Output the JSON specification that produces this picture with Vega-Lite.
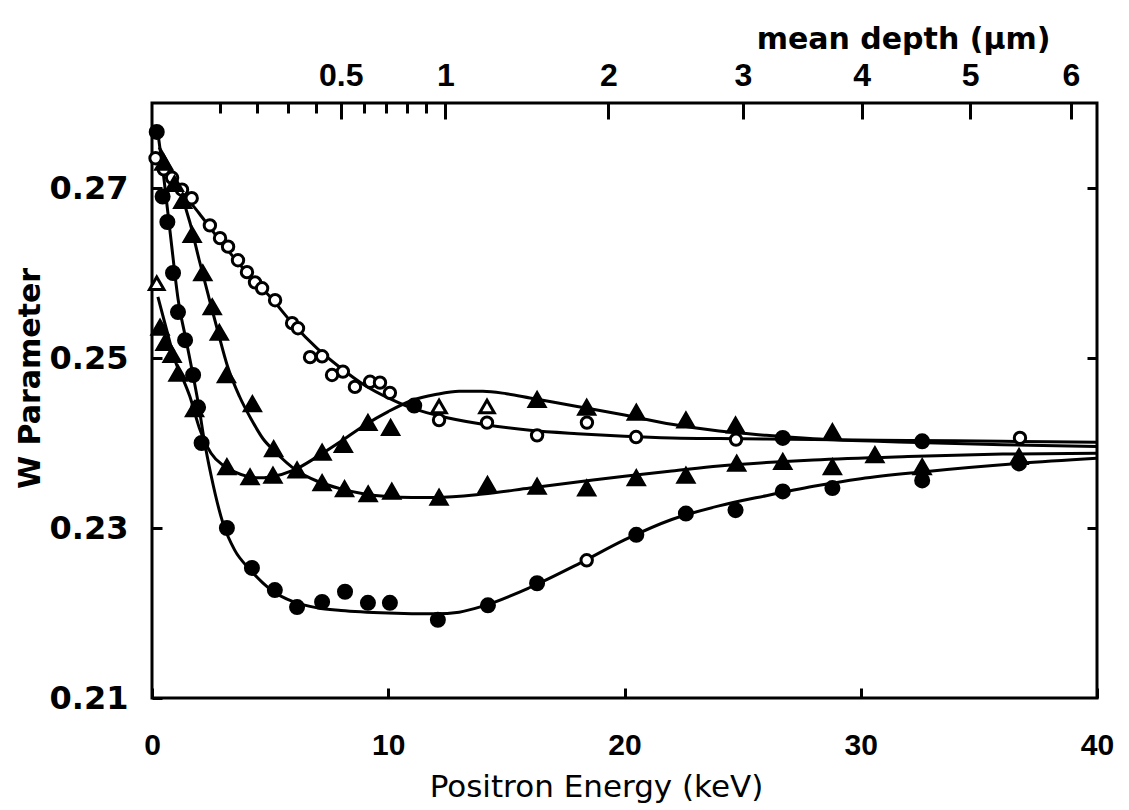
{
  "$schema": "https://vega.github.io/schema/vega-lite/v6.json",
  "width": 945,
  "height": 595,
  "autosize": {"type": "none"},
  "padding": {"left": 152, "top": 103, "right": 32, "bottom": 112},
  "background": "white",
  "config": {
    "view": {"stroke": "black", "strokeWidth": 3},
    "axis": {"domain": false, "grid": false, "tickColor": "black", "tickWidth": 3, "labelColor": "black", "titleColor": "black"}
  },
  "datasets": {
    "curves": [
      {"series": "A", "E": 0.3, "W": 0.2738}, {"series": "A", "E": 1, "W": 0.2706}, {"series": "A", "E": 2, "W": 0.2670}, {"series": "A", "E": 3, "W": 0.2634}, {"series": "A", "E": 4, "W": 0.2601}, {"series": "A", "E": 5, "W": 0.2572}, {"series": "A", "E": 6, "W": 0.2539}, {"series": "A", "E": 7, "W": 0.2511}, {"series": "A", "E": 8, "W": 0.2488}, {"series": "A", "E": 9, "W": 0.2468}, {"series": "A", "E": 10, "W": 0.2453}, {"series": "A", "E": 11, "W": 0.2441}, {"series": "A", "E": 12, "W": 0.2433}, {"series": "A", "E": 14, "W": 0.2422}, {"series": "A", "E": 16, "W": 0.2415}, {"series": "A", "E": 18, "W": 0.2411}, {"series": "A", "E": 20, "W": 0.2408}, {"series": "A", "E": 22, "W": 0.2406}, {"series": "A", "E": 25, "W": 0.2405}, {"series": "A", "E": 28, "W": 0.2404}, {"series": "A", "E": 32, "W": 0.2403}, {"series": "A", "E": 36, "W": 0.2402}, {"series": "A", "E": 40, "W": 0.2401},
      {"series": "B", "E": 0.25, "W": 0.2572}, {"series": "B", "E": 0.6, "W": 0.2535}, {"series": "B", "E": 1.0, "W": 0.2495}, {"series": "B", "E": 1.3, "W": 0.2476}, {"series": "B", "E": 1.6, "W": 0.2455}, {"series": "B", "E": 2.0, "W": 0.2418}, {"series": "B", "E": 2.5, "W": 0.2388}, {"series": "B", "E": 3, "W": 0.2374}, {"series": "B", "E": 3.5, "W": 0.2366}, {"series": "B", "E": 4, "W": 0.2361}, {"series": "B", "E": 4.5, "W": 0.2359}, {"series": "B", "E": 5, "W": 0.2360}, {"series": "B", "E": 6, "W": 0.2368}, {"series": "B", "E": 7, "W": 0.2384}, {"series": "B", "E": 8, "W": 0.2402}, {"series": "B", "E": 9, "W": 0.2421}, {"series": "B", "E": 10, "W": 0.2437}, {"series": "B", "E": 11, "W": 0.2450}, {"series": "B", "E": 12, "W": 0.2457}, {"series": "B", "E": 13, "W": 0.2461}, {"series": "B", "E": 14, "W": 0.2461}, {"series": "B", "E": 15, "W": 0.2458}, {"series": "B", "E": 16, "W": 0.2453}, {"series": "B", "E": 18, "W": 0.2443}, {"series": "B", "E": 20, "W": 0.2433}, {"series": "B", "E": 22, "W": 0.2422}, {"series": "B", "E": 24, "W": 0.2414}, {"series": "B", "E": 26, "W": 0.2409}, {"series": "B", "E": 28, "W": 0.2405}, {"series": "B", "E": 32, "W": 0.2401}, {"series": "B", "E": 36, "W": 0.2398}, {"series": "B", "E": 40, "W": 0.2396},
      {"series": "C", "E": 0.3, "W": 0.2748}, {"series": "C", "E": 0.8, "W": 0.2722}, {"series": "C", "E": 1.2, "W": 0.2695}, {"series": "C", "E": 1.6, "W": 0.2660}, {"series": "C", "E": 2.0, "W": 0.2615}, {"series": "C", "E": 2.4, "W": 0.2572}, {"series": "C", "E": 2.8, "W": 0.2530}, {"series": "C", "E": 3.2, "W": 0.2490}, {"series": "C", "E": 3.7, "W": 0.2455}, {"series": "C", "E": 4.2, "W": 0.2428}, {"series": "C", "E": 4.7, "W": 0.2405}, {"series": "C", "E": 5.2, "W": 0.2390}, {"series": "C", "E": 6.1, "W": 0.2368}, {"series": "C", "E": 7, "W": 0.2355}, {"series": "C", "E": 8, "W": 0.2346}, {"series": "C", "E": 9, "W": 0.2340}, {"series": "C", "E": 10, "W": 0.2337}, {"series": "C", "E": 11, "W": 0.2336}, {"series": "C", "E": 12, "W": 0.2336}, {"series": "C", "E": 14, "W": 0.2340}, {"series": "C", "E": 16, "W": 0.2347}, {"series": "C", "E": 18, "W": 0.2354}, {"series": "C", "E": 20, "W": 0.2361}, {"series": "C", "E": 22, "W": 0.2367}, {"series": "C", "E": 24, "W": 0.2373}, {"series": "C", "E": 26, "W": 0.2377}, {"series": "C", "E": 28, "W": 0.2380}, {"series": "C", "E": 32, "W": 0.2384}, {"series": "C", "E": 36, "W": 0.2387}, {"series": "C", "E": 40, "W": 0.2388},
      {"series": "D", "E": 0.25, "W": 0.2765}, {"series": "D", "E": 0.5, "W": 0.2712}, {"series": "D", "E": 0.8, "W": 0.2640}, {"series": "D", "E": 1.1, "W": 0.2570}, {"series": "D", "E": 1.45, "W": 0.2520}, {"series": "D", "E": 1.75, "W": 0.2478}, {"series": "D", "E": 2.0, "W": 0.2440}, {"series": "D", "E": 2.2, "W": 0.2405}, {"series": "D", "E": 2.5, "W": 0.2362}, {"series": "D", "E": 3.0, "W": 0.2306}, {"series": "D", "E": 3.5, "W": 0.2274}, {"series": "D", "E": 4.15, "W": 0.2251}, {"series": "D", "E": 5, "W": 0.2228}, {"series": "D", "E": 6, "W": 0.2213}, {"series": "D", "E": 7, "W": 0.2206}, {"series": "D", "E": 8, "W": 0.2203}, {"series": "D", "E": 10, "W": 0.2200}, {"series": "D", "E": 12, "W": 0.2199}, {"series": "D", "E": 13, "W": 0.2201}, {"series": "D", "E": 14, "W": 0.2208}, {"series": "D", "E": 16, "W": 0.2230}, {"series": "D", "E": 18, "W": 0.2257}, {"series": "D", "E": 20, "W": 0.2286}, {"series": "D", "E": 22, "W": 0.2310}, {"series": "D", "E": 24, "W": 0.2326}, {"series": "D", "E": 26, "W": 0.2338}, {"series": "D", "E": 28, "W": 0.2349}, {"series": "D", "E": 30, "W": 0.2358}, {"series": "D", "E": 32.6, "W": 0.2366}, {"series": "D", "E": 36.7, "W": 0.2376}, {"series": "D", "E": 40, "W": 0.2382}
    ],
    "points": [
      {"E": 0.15, "W": 0.2735, "marker": "open circle"}, {"E": 0.5, "W": 0.2722, "marker": "open circle"}, {"E": 0.85, "W": 0.2712, "marker": "open circle"}, {"E": 1.27, "W": 0.2698, "marker": "open circle"}, {"E": 1.68, "W": 0.2688, "marker": "open circle"}, {"E": 2.45, "W": 0.2656, "marker": "open circle"}, {"E": 2.88, "W": 0.2641, "marker": "open circle"}, {"E": 3.22, "W": 0.2631, "marker": "open circle"}, {"E": 3.64, "W": 0.2615, "marker": "open circle"}, {"E": 4.02, "W": 0.2601, "marker": "open circle"}, {"E": 4.36, "W": 0.2589, "marker": "open circle"}, {"E": 4.66, "W": 0.2582, "marker": "open circle"}, {"E": 5.21, "W": 0.2568, "marker": "open circle"}, {"E": 5.93, "W": 0.2541, "marker": "open circle"}, {"E": 6.18, "W": 0.2535, "marker": "open circle"}, {"E": 6.69, "W": 0.2501, "marker": "open circle"}, {"E": 7.2, "W": 0.2502, "marker": "open circle"}, {"E": 7.62, "W": 0.2480, "marker": "open circle"}, {"E": 8.08, "W": 0.2484, "marker": "open circle"}, {"E": 8.59, "W": 0.2466, "marker": "open circle"}, {"E": 9.23, "W": 0.2472, "marker": "open circle"}, {"E": 9.65, "W": 0.2471, "marker": "open circle"}, {"E": 10.07, "W": 0.2459, "marker": "open circle"}, {"E": 12.15, "W": 0.2427, "marker": "open circle"}, {"E": 14.18, "W": 0.2424, "marker": "open circle"}, {"E": 16.3, "W": 0.2409, "marker": "open circle"}, {"E": 18.41, "W": 0.2424, "marker": "open circle"}, {"E": 20.49, "W": 0.2407, "marker": "open circle"}, {"E": 24.72, "W": 0.2404, "marker": "open circle"}, {"E": 36.74, "W": 0.2406, "marker": "open circle"}, {"E": 18.4, "W": 0.2262, "marker": "open circle"},
      {"E": 0.2, "W": 0.2588, "marker": "open triangle"}, {"E": 12.15, "W": 0.2443, "marker": "open triangle"}, {"E": 14.18, "W": 0.2443, "marker": "open triangle"},
      {"E": 0.34, "W": 0.2536, "marker": "filled triangle"}, {"E": 0.55, "W": 0.2518, "marker": "filled triangle"}, {"E": 0.85, "W": 0.2504, "marker": "filled triangle"}, {"E": 1.1, "W": 0.2482, "marker": "filled triangle"}, {"E": 1.8, "W": 0.2440, "marker": "filled triangle"}, {"E": 3.17, "W": 0.2372, "marker": "filled triangle"}, {"E": 4.15, "W": 0.2360, "marker": "filled triangle"}, {"E": 5.12, "W": 0.2362, "marker": "filled triangle"}, {"E": 6.14, "W": 0.2368, "marker": "filled triangle"}, {"E": 7.2, "W": 0.2389, "marker": "filled triangle"}, {"E": 8.1, "W": 0.2398, "marker": "filled triangle"}, {"E": 9.14, "W": 0.2424, "marker": "filled triangle"}, {"E": 10.1, "W": 0.2418, "marker": "filled triangle"}, {"E": 16.3, "W": 0.2451, "marker": "filled triangle"}, {"E": 18.4, "W": 0.2442, "marker": "filled triangle"}, {"E": 20.5, "W": 0.2436, "marker": "filled triangle"}, {"E": 22.6, "W": 0.2427, "marker": "filled triangle"}, {"E": 24.7, "W": 0.2421, "marker": "filled triangle"}, {"E": 28.8, "W": 0.2413, "marker": "filled triangle"},
      {"E": 0.5, "W": 0.2730, "marker": "filled triangle"}, {"E": 0.95, "W": 0.2705, "marker": "filled triangle"}, {"E": 1.3, "W": 0.2685, "marker": "filled triangle"}, {"E": 1.7, "W": 0.2645, "marker": "filled triangle"}, {"E": 2.15, "W": 0.2600, "marker": "filled triangle"}, {"E": 2.55, "W": 0.2560, "marker": "filled triangle"}, {"E": 2.85, "W": 0.2530, "marker": "filled triangle"}, {"E": 3.15, "W": 0.2480, "marker": "filled triangle"}, {"E": 4.25, "W": 0.2446, "marker": "filled triangle"}, {"E": 5.15, "W": 0.2393, "marker": "filled triangle"}, {"E": 7.2, "W": 0.2353, "marker": "filled triangle"}, {"E": 8.15, "W": 0.2346, "marker": "filled triangle"}, {"E": 9.15, "W": 0.2340, "marker": "filled triangle"}, {"E": 10.15, "W": 0.2343, "marker": "filled triangle"}, {"E": 12.15, "W": 0.2336, "marker": "filled triangle"}, {"E": 14.2, "W": 0.2351, "marker": "filled triangle"}, {"E": 16.3, "W": 0.2349, "marker": "filled triangle"}, {"E": 18.4, "W": 0.2347, "marker": "filled triangle"}, {"E": 20.5, "W": 0.2359, "marker": "filled triangle"}, {"E": 22.6, "W": 0.2362, "marker": "filled triangle"}, {"E": 24.75, "W": 0.2376, "marker": "filled triangle"}, {"E": 26.7, "W": 0.2378, "marker": "filled triangle"}, {"E": 28.8, "W": 0.2372, "marker": "filled triangle"}, {"E": 30.6, "W": 0.2386, "marker": "filled triangle"}, {"E": 32.6, "W": 0.2372, "marker": "filled triangle"}, {"E": 36.7, "W": 0.2384, "marker": "filled triangle"},
      {"E": 0.2, "W": 0.2766, "marker": "filled circle"}, {"E": 0.45, "W": 0.2690, "marker": "filled circle"}, {"E": 0.65, "W": 0.2660, "marker": "filled circle"}, {"E": 0.89, "W": 0.2600, "marker": "filled circle"}, {"E": 1.1, "W": 0.2554, "marker": "filled circle"}, {"E": 1.4, "W": 0.2521, "marker": "filled circle"}, {"E": 1.74, "W": 0.2480, "marker": "filled circle"}, {"E": 1.95, "W": 0.2442, "marker": "filled circle"}, {"E": 2.1, "W": 0.2400, "marker": "filled circle"}, {"E": 3.17, "W": 0.2300, "marker": "filled circle"}, {"E": 4.23, "W": 0.2253, "marker": "filled circle"}, {"E": 5.2, "W": 0.2227, "marker": "filled circle"}, {"E": 6.14, "W": 0.2207, "marker": "filled circle"}, {"E": 7.2, "W": 0.2213, "marker": "filled circle"}, {"E": 8.17, "W": 0.2225, "marker": "filled circle"}, {"E": 9.14, "W": 0.2212, "marker": "filled circle"}, {"E": 10.07, "W": 0.2212, "marker": "filled circle"}, {"E": 12.1, "W": 0.2192, "marker": "filled circle"}, {"E": 14.22, "W": 0.2209, "marker": "filled circle"}, {"E": 16.3, "W": 0.2235, "marker": "filled circle"}, {"E": 20.5, "W": 0.2292, "marker": "filled circle"}, {"E": 22.6, "W": 0.2317, "marker": "filled circle"}, {"E": 24.7, "W": 0.2321, "marker": "filled circle"}, {"E": 26.7, "W": 0.2343, "marker": "filled circle"}, {"E": 28.8, "W": 0.2347, "marker": "filled circle"}, {"E": 32.6, "W": 0.2356, "marker": "filled circle"}, {"E": 36.7, "W": 0.2376, "marker": "filled circle"},
      {"E": 11.1, "W": 0.2444, "marker": "filled circle"}, {"E": 26.7, "W": 0.2406, "marker": "filled circle"}, {"E": 32.6, "W": 0.2402, "marker": "filled circle"}
    ],
    "depth": [
      {"d": 0.5}, {"d": 1}, {"d": 2}, {"d": 3}, {"d": 4}, {"d": 5}, {"d": 6}
    ]
  },
  "layer": [
    {
      "data": {"name": "curves"},
      "mark": {"type": "line", "color": "black", "strokeWidth": 3, "interpolate": "monotone"},
      "encoding": {
        "x": {
          "field": "E", "type": "quantitative",
          "scale": {"domain": [0, 40], "nice": false, "zero": false},
          "axis": {
            "orient": "bottom", "values": [0, 10, 20, 30, 40], "format": "d",
            "tickSize": -10, "labelFlush": false,
            "labelFont": "Liberation Sans", "labelFontSize": 30, "labelFontWeight": "bold", "labelPadding": 42,
            "title": "Positron Energy (keV)", "titleFont": "DejaVu Sans", "titleFontSize": 31, "titleFontWeight": "normal",
            "titleX": 444, "titleY": 98, "titleBaseline": "alphabetic", "titleAlign": "center"
          }
        },
        "y": {
          "field": "W", "type": "quantitative",
          "scale": {"domain": [0.21, 0.28], "nice": false, "zero": false},
          "axis": {
            "orient": "left", "values": [0.21, 0.23, 0.25, 0.27], "format": ".2f",
            "tickSize": -10, "labelFont": "DejaVu Sans", "labelFontSize": 32, "labelFontWeight": "bold", "labelPadding": 34,
            "title": "W Parameter", "titleFont": "DejaVu Sans", "titleFontSize": 30, "titleFontWeight": "bold",
            "titleX": -122, "titleY": 275, "titleAngle": -90, "titleBaseline": "middle", "titleAlign": "center"
          }
        },
        "detail": {"field": "series", "type": "nominal"}
      }
    },
    {
      "data": {"name": "points"},
      "mark": {"type": "point", "filled": true, "stroke": "black", "strokeWidth": 3, "opacity": 1},
      "encoding": {
        "x": {"field": "E", "type": "quantitative", "scale": {"domain": [0, 40], "nice": false, "zero": false}, "axis": null},
        "y": {"field": "W", "type": "quantitative", "axis": null},
        "shape": {"field": "marker", "type": "nominal", "legend": null,
          "scale": {"domain": ["open circle", "filled circle", "open triangle", "filled triangle"], "range": ["circle", "circle", "triangle-up", "triangle-up"]}},
        "fill": {"field": "marker", "type": "nominal", "legend": null,
          "scale": {"domain": ["open circle", "filled circle", "open triangle", "filled triangle"], "range": ["white", "black", "white", "black"]}},
        "size": {"field": "marker", "type": "nominal", "legend": null,
          "scale": {"domain": ["open circle", "filled circle", "open triangle", "filled triangle"], "range": [130, 250, 150, 200]}}
      }
    },
    {
      "data": {"name": "points"},
      "mark": {"type": "point", "opacity": 0},
      "encoding": {
        "x": {"field": "E", "type": "quantitative", "scale": {"domain": [0, 40], "nice": false, "zero": false}, "axis": null},
        "y": {"field": "W", "type": "quantitative",
          "axis": {"orient": "right", "values": [0.23, 0.25, 0.27], "labels": false, "tickSize": -10, "title": null}}
      }
    },
    {
      "data": {"name": "depth"},
      "mark": {"type": "point", "opacity": 0},
      "encoding": {
        "x": {
          "field": "d", "type": "quantitative",
          "scale": {"type": "pow", "exponent": 0.637, "domain": [0, 6.27], "nice": false, "zero": false},
          "axis": {
            "orient": "top", "values": [0.1, 0.2, 0.3, 0.4, 0.5, 0.6, 0.7, 0.8, 0.9, 1, 2, 3, 4, 5, 6],
            "labelExpr": "datum.value == 0.5 ? '0.5' : (datum.value >= 1 ? '' + datum.value : '')",
            "tickSize": {"condition": {"test": "datum.value == 0.5 || datum.value >= 1", "value": -16}, "value": -10},
            "labelFlush": false,
            "labelFont": "Liberation Sans", "labelFontSize": 32, "labelFontWeight": "bold", "labelPadding": 27,
            "title": "mean depth (µm)", "titleFont": "DejaVu Sans", "titleFontSize": 30, "titleFontWeight": "bold",
            "titleX": 898, "titleY": -55, "titleAlign": "right", "titleBaseline": "alphabetic"
          }
        }
      }
    }
  ],
  "resolve": {"scale": {"x": "independent"}, "axis": {"y": "independent"}}
}
